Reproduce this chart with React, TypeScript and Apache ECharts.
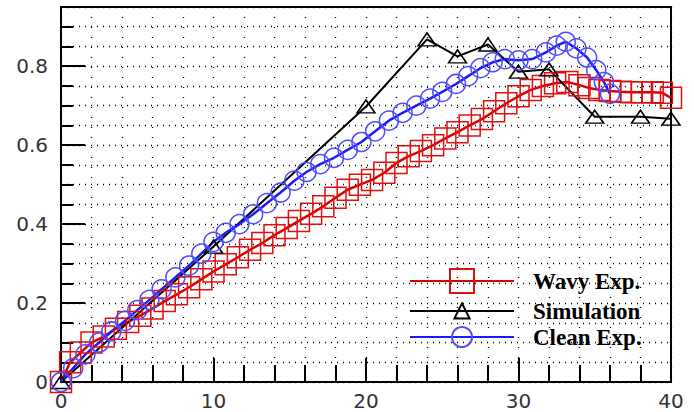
import React, { useEffect, useRef } from "react";
import * as echarts from "echarts";

const wavyX = [0,0.6,1.3,2,2.8,3.6,4.4,5.2,6,6.8,7.6,8.4,9.2,10,10.8,11.6,12.4,13.2,14,14.8,15.6,16.4,17.2,18,18.8,19.6,20.4,21.2,22,22.8,23.6,24.4,25.2,26,26.8,27.6,28.4,29.2,30,30.8,31.6,32.4,33.2,34,34.6,35.3,36,36.7,37.4,38.1,38.8,39.4,40];
const wavyY = [0,0.05,0.075,0.1,0.115,0.135,0.152,0.168,0.186,0.205,0.222,0.24,0.26,0.28,0.298,0.316,0.335,0.352,0.372,0.39,0.408,0.426,0.445,0.467,0.487,0.5,0.512,0.53,0.555,0.572,0.585,0.6,0.617,0.633,0.65,0.666,0.686,0.706,0.724,0.74,0.75,0.757,0.76,0.752,0.745,0.74,0.737,0.735,0.734,0.734,0.734,0.733,0.72];

const simX = [0,10,20,24,26,28,30,32,35,38,40];
const simY = [0,0.343,0.698,0.868,0.825,0.855,0.786,0.792,0.672,0.672,0.667];

const cleanX = [0,0.8,1.6,2.5,3.3,4.2,5,5.8,6.6,7.5,8.4,9.2,10,10.8,11.7,12.6,13.5,14.4,15.3,16.1,17,17.9,18.8,19.7,20.6,21.5,22.4,23.3,24.2,25,25.9,26.7,27.5,28.3,29.1,30,30.9,31.8,32.5,33.1,33.8,34.5,35.1,35.6,36];
const cleanY = [0,0.035,0.07,0.1,0.128,0.155,0.182,0.208,0.235,0.265,0.295,0.325,0.355,0.378,0.4,0.425,0.453,0.48,0.51,0.532,0.552,0.568,0.588,0.608,0.635,0.662,0.682,0.7,0.718,0.735,0.755,0.775,0.795,0.81,0.818,0.815,0.818,0.835,0.852,0.862,0.845,0.822,0.79,0.76,0.73];

const seriesNames = ["Wavy Exp.", "Simulation", "Clean Exp."];

const zip = (xs: number[], ys: number[]) => xs.map((x, i) => [x, ys[i]]);

export default function App() {
  const ref = useRef<HTMLDivElement>(null);
  useEffect(() => {
    document.body.style.margin = "0";
    const chart = echarts.init(ref.current!, null, { renderer: "svg" });
    const dotH = { type: [1, 5], color: "#000", width: 1.3 };
    const dotV = { type: [1, 9], color: "#000", width: 1.3 };
    const labelFont = { fontFamily: "DejaVu Sans", fontSize: 20, color: "#333" };
    const legendText = {
      fontFamily: "Liberation Serif",
      fontWeight: "bold" as const,
      fontSize: 23,
      color: "#000",
      padding: [0, 0, 0, 14],
    };
    chart.setOption({
      animation: false,
      backgroundColor: "#fff",
      grid: {
        left: 61,
        right: 23,
        top: 7,
        bottom: 30,
        show: true,
        borderColor: "#000",
        borderWidth: 2,
        backgroundColor: "transparent",
      },
      xAxis: {
        type: "value",
        min: 0,
        max: 40,
        interval: 10,
        axisLine: { show: true, lineStyle: { color: "#000", width: 2 } },
        axisTick: { show: true, inside: true, length: 24, lineStyle: { color: "#000", width: 2 } },
        minorTick: { show: true, splitNumber: 5, length: 17, lineStyle: { color: "#000", width: 2 } },
        splitLine: { show: true, lineStyle: dotV },
        minorSplitLine: { show: true, lineStyle: dotV },
        axisLabel: { ...labelFont, margin: 9 },
      },
      yAxis: [
        {
          type: "value",
          min: 0,
          max: 0.95,
          interval: 0.05,
          position: "left",
          axisLine: { show: true, lineStyle: { color: "#000", width: 2 } },
          axisTick: { show: true, inside: true, length: 12, lineStyle: { color: "#000", width: 2 } },
          splitLine: { show: true, lineStyle: dotH },
          axisLabel: {
            ...labelFont,
            margin: 13,
            formatter: (v: number) => {
              const r = Math.round(v * 100);
              return r % 20 === 0 && r <= 80 ? String(Number(v.toFixed(1))) : "";
            },
          },
        },
        {
          type: "value",
          min: 0,
          max: 0.95,
          interval: 0.2,
          position: "left",
          axisLine: { show: false },
          axisTick: { show: true, inside: true, length: 24, lineStyle: { color: "#000", width: 2 } },
          splitLine: { show: false },
          axisLabel: { show: false },
        },
      ],
      legend: [
        {
          data: [seriesNames[0]], left: 409, top: 268, padding: 0,
          itemWidth: 104, itemHeight: 30, textStyle: legendText, selectedMode: false,
        },
        {
          data: [seriesNames[1]], left: 409, top: 299.5, padding: 0,
          itemWidth: 104, itemHeight: 19, textStyle: legendText, selectedMode: false,
        },
        {
          data: [seriesNames[2]], left: 409, top: 325.5, padding: 0,
          itemWidth: 104, itemHeight: 25, textStyle: legendText, selectedMode: false,
        },
      ],
      series: [
        {
          name: seriesNames[0],
          type: "line",
          data: zip(wavyX, wavyY),
          symbol: "rect",
          symbolSize: 21,
          showAllSymbol: true,
          clip: false,
          lineStyle: { color: "#dd0000", width: 2.5 },
          itemStyle: { color: "rgba(0,0,0,0)", borderColor: "#e01010", borderWidth: 1.5 },
        },
        {
          name: seriesNames[1],
          type: "line",
          data: zip(simX, simY),
          symbol: "triangle",
          symbolSize: [18, 13],
          showAllSymbol: true,
          clip: false,
          lineStyle: { color: "#000", width: 2 },
          itemStyle: { color: "rgba(0,0,0,0)", borderColor: "#000", borderWidth: 1.5 },
        },
        {
          name: seriesNames[2],
          type: "line",
          data: zip(cleanX, cleanY),
          symbol: "circle",
          symbolSize: 19,
          showAllSymbol: true,
          clip: false,
          lineStyle: { color: "#1a1aff", width: 2.5 },
          itemStyle: { color: "rgba(0,0,0,0)", borderColor: "#4d4dff", borderWidth: 1.5 },
        },
      ],
    });
    return () => chart.dispose();
  }, []);
  return <div ref={ref} style={{ width: 694, height: 412 }} />;
}
